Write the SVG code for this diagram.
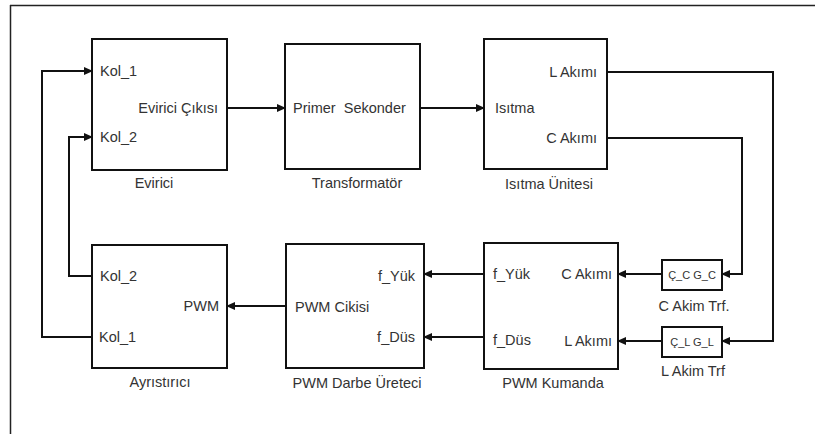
<svg xmlns="http://www.w3.org/2000/svg" width="816" height="434" viewBox="0 0 816 434">
<style>
.blk{fill:#fff;stroke:#111;stroke-width:2}
.sm{fill:#fff;stroke:#111;stroke-width:2}
text{font-family:"Liberation Sans",Arial,sans-serif;font-size:14.5px;fill:#333;dominant-baseline:central}
.s{font-size:11px}
.m{text-anchor:middle}
.e{text-anchor:end}
.w{fill:none;stroke:#111;stroke-width:2}
</style>
<defs>
<marker id="ah" markerWidth="9" markerHeight="8" refX="8" refY="4" orient="auto" markerUnits="userSpaceOnUse">
<path d="M0,0 L9,4 L0,8 Z" fill="#111"/>
</marker>
</defs>
<rect width="816" height="434" fill="#fff"/>
<g id="frame">
<line x1="10" y1="5.5" x2="815" y2="5.5" stroke="#222" stroke-width="1.5"/>
<line x1="10.5" y1="5" x2="10.5" y2="434" stroke="#222" stroke-width="1.5"/>
</g>
<g id="evirici">
<rect class="blk" x="92" y="39" width="135" height="131"/>
<text x="100" y="71">Kol_1</text>
<text x="100" y="137">Kol_2</text>
<text class="e" x="218" y="108">Evirici Çıkısı</text>
<text class="m" x="154" y="183">Evirici</text>
</g>
<g id="transformator">
<rect class="blk" x="285" y="44" width="135" height="125"/>
<text x="293" y="108" xml:space="preserve">Primer  Sekonder</text>
<text class="m" x="357" y="183">Transformatör</text>
</g>
<g id="isitma">
<rect class="blk" x="484" y="39" width="123" height="130"/>
<text class="e" x="597" y="72">L Akımı</text>
<text x="495" y="108">Isıtma</text>
<text class="e" x="597" y="138">C Akımı</text>
<text class="m" x="549" y="184">Isıtma Ünitesi</text>
</g>
<g id="ctrf">
<rect class="sm" x="662" y="260" width="60" height="30"/>
<text class="m s" x="692" y="275">Ç_C G_C</text>
<text class="m" x="694" y="306">C Akim Trf.</text>
</g>
<g id="ltrf">
<rect class="sm" x="662" y="327" width="60" height="30"/>
<text class="m s" x="692" y="342">Ç_L G_L</text>
<text class="m" x="693" y="371">L Akim Trf</text>
</g>
<g id="kumanda">
<rect class="blk" x="484" y="243" width="134" height="126"/>
<text x="493" y="274">f_Yük</text>
<text x="493" y="340">f_Düs</text>
<text class="e" x="612" y="274">C Akımı</text>
<text class="e" x="612" y="341">L Akımı</text>
<text class="m" x="553" y="383">PWM Kumanda</text>
</g>
<g id="darbe">
<rect class="blk" x="286" y="244" width="138" height="124"/>
<text class="e" x="415" y="276">f_Yük</text>
<text class="e" x="415" y="337">f_Düs</text>
<text x="295" y="307">PWM Cikisi</text>
<text class="m" x="357" y="383">PWM Darbe Üreteci</text>
</g>
<g id="ayristirici">
<rect class="blk" x="92" y="245" width="135" height="123"/>
<text x="100" y="276">Kol_2</text>
<text class="e" x="219" y="306">PWM</text>
<text x="99" y="337">Kol_1</text>
<text class="m" x="160" y="382">Ayrıstırıcı</text>
</g>
<g id="connectors">
<path class="w" d="M227,108 H285" marker-end="url(#ah)"/>
<path class="w" d="M420,108 H484" marker-end="url(#ah)"/>
<path class="w" d="M607,72 H773 V341 H722" marker-end="url(#ah)"/>
<path class="w" d="M607,138 H742 V274 H722" marker-end="url(#ah)"/>
<path class="w" d="M662,274 H618" marker-end="url(#ah)"/>
<path class="w" d="M662,341 H618" marker-end="url(#ah)"/>
<path class="w" d="M484,274 H424" marker-end="url(#ah)"/>
<path class="w" d="M484,337 H424" marker-end="url(#ah)"/>
<path class="w" d="M286,306 H227" marker-end="url(#ah)"/>
<path class="w" d="M92,276 H69 V137 H92" marker-end="url(#ah)"/>
<path class="w" d="M92,337 H42 V71 H92" marker-end="url(#ah)"/>
</g>
</svg>
